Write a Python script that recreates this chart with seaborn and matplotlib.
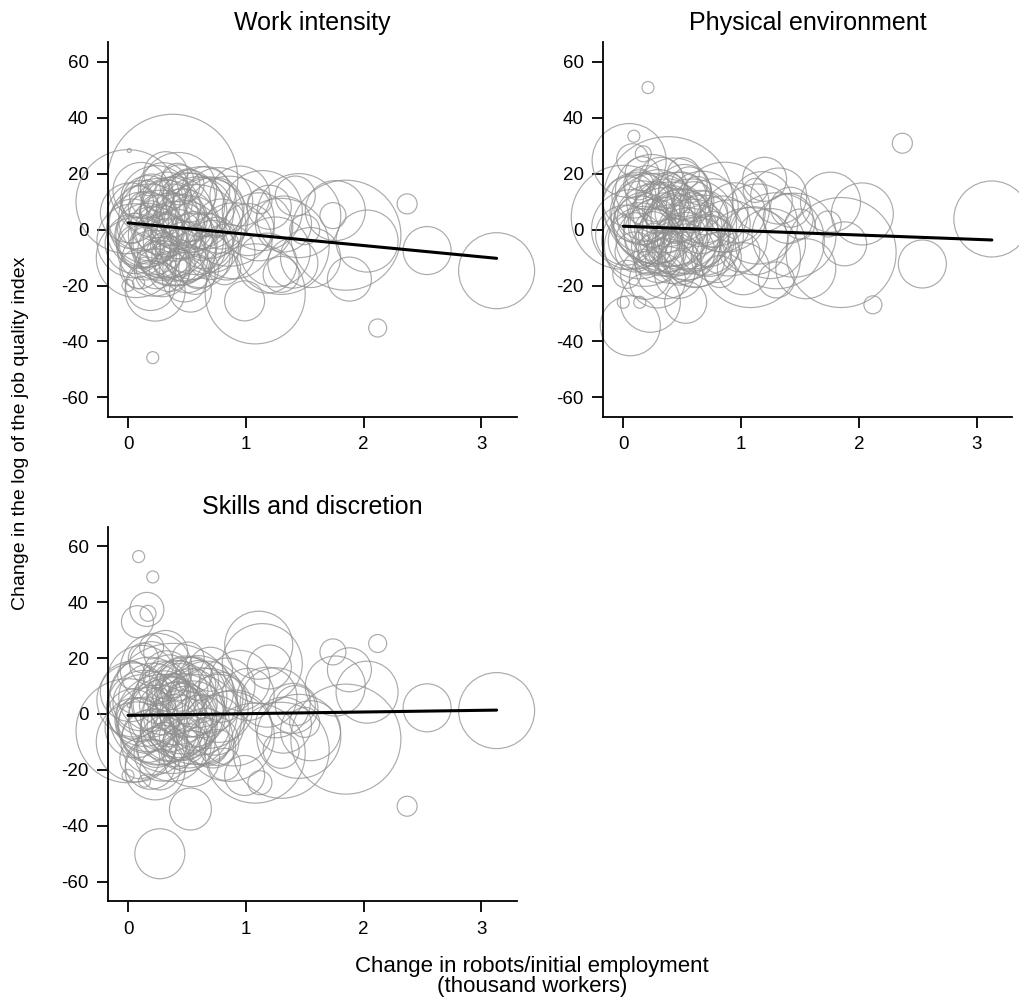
import numpy as np
import pandas as pd
import matplotlib
matplotlib.use("Agg")
import matplotlib.pyplot as plt
import seaborn as sns

# Change in robots per initial employment (thousand workers), shared by all panels.
robots = [3.13, 2.54, 2.37, 2.12, 2.03, 1.88, 1.74, 1.85, 1.76,
          1.08, 1.14, 0.99, 1.25, 1.32, 1.45, 1.40, 1.20, 0.95, 1.55,
          0.90, 1.02, 1.30, 0.86, 1.12, 1.11, 1.30, 1.42, 0.82, 1.50, 1.18,
          0.21, 0.01, 0.09, 0.17, 0.16, 0.08, 0.06, 0.27, 0.53, 0.38,
          0.00, 0.05, 0.00, 0.14, 0.23,
          0.12, 0.15, 0.18, 0.20, 0.22, 0.25, 0.28, 0.30, 0.31, 0.33,
          0.35, 0.36, 0.40, 0.42, 0.44, 0.46, 0.48, 0.50, 0.52, 0.55,
          0.58, 0.60, 0.62, 0.65, 0.68, 0.70, 0.73, 0.76, 0.79, 0.10,
          0.13, 0.19, 0.24, 0.26, 0.29, 0.32, 0.34, 0.37, 0.39, 0.41,
          0.43, 0.45, 0.47, 0.49, 0.51, 0.54, 0.57, 0.59, 0.63, 0.66,
          0.04, 0.07, 0.11, 0.16, 0.20, 0.27, 0.03,
          0.02, 0.09, 0.14, 0.17, 0.21, 0.24, 0.26, 0.30, 0.33, 0.36,
          0.38, 0.41, 0.44, 0.47, 0.50, 0.53, 0.56, 0.61, 0.67, 0.72,
          0.77, 0.84]

# Bubble radius weight (employment), shared by all panels.
weight = [38, 24, 10, 9, 31, 22, 13, 55, 30,
          50, 40, 20, 35, 28, 42, 25, 22, 30, 30,
          38, 26, 48, 45, 12, 34, 18, 20, 16, 15, 30,
          6, 2, 6, 8, 17, 16, 30, 25, 21, 65,
          52, 37, 6, 6, 30,
          35, 28, 40, 22, 33, 18, 45, 25, 14, 38,
          20, 30, 42, 16, 28, 35, 22, 40, 26, 33,
          45, 20, 35, 28, 40, 22, 30, 18, 25, 20,
          15, 25, 36, 12, 28, 22, 16, 34, 12, 26,
          38, 14, 24, 30, 16, 28, 20, 36, 14, 24,
          25, 40, 28, 32, 12, 20, 14,
          30, 22, 38, 26, 34, 20, 40, 32, 24, 42,
          18, 36, 20, 40, 24, 34, 18, 30, 36, 26,
          34, 28]

work_intensity = [-14.7, -7.5, 9.2, -35.2, -4.1, -17.7, 5.0, -2.0, 6.8,
                  -23.0, 6.8, -25.5, -8.0, 2.0, 5.0, -12.0, 8.0, 12.0, -10.0,
                  -4.0, 0.0, -6.0, 3.0, 10.0, 1.0, -16.0, 12.0, -14.0, 0.0, -12.0,
                  -45.8, 28.3, -19.0, 15.0, -5.0, 10.0, -5.0, 0.0, -22.0, 18.0,
                  10.0, -4.0, -20.0, -12.0, -22.0,
                  5.0, -8.0, 2.0, 12.0, -12.0, 6.0, -2.0, 15.0, -6.0, 4.0,
                  -15.0, 8.0, -5.0, 18.0, -10.0, 2.0, -18.0, 6.0, 12.0, -6.0,
                  0.0, -14.0, 10.0, -4.0, 4.0, -10.0, 8.0, -2.0, 2.0, -14.0,
                  8.0, -20.0, 10.0, -8.0, -14.0, 20.0, 0.0, -8.0, 12.0, -2.0,
                  14.0, -12.0, 4.0, -8.0, 16.0, 2.0, -16.0, 6.0, -6.0, 14.0,
                  2.0, -10.0, 14.0, -2.0, 6.0, -10.0, 0.0,
                  6.0, -6.0, 0.0, 10.0, -4.0, -14.0, 4.0, -6.0, 12.0, -2.0,
                  -12.0, 6.0, 16.0, -4.0, -14.0, 8.0, 0.0, -10.0, 6.0, -6.0,
                  10.0, -8.0]

physical_environment = [3.8, -12.3, 30.9, -26.9, 5.6, -5.1, 2.0, -8.2, 9.8,
                        -10.0, 2.0, -8.0, -5.0, 12.0, -2.0, 4.0, 18.0, 6.0, -14.0,
                        -3.0, -14.0, -4.0, 8.0, 14.0, -4.0, -18.0, 8.0, -15.0, 2.0, 10.0,
                        50.8, 5.0, 33.4, 27.1, 20.0, 25.0, -34.4, 2.0, -26.0, 10.0,
                        4.4, 24.7, -26.0, -26.0, -26.0,
                        8.0, 2.0, -6.0, 15.0, -4.0, 0.0, 4.0, -10.0, 12.0, -2.0,
                        6.0, -14.0, 2.0, 10.0, -6.0, 8.0, -12.0, 0.0, 14.0, -4.0,
                        2.0, 10.0, -8.0, 4.0, -2.0, 6.0, -6.0, 0.0, -10.0, -8.0,
                        16.0, -16.0, 14.0, -2.0, -18.0, 18.0, -6.0, 6.0, -4.0, -10.0,
                        12.0, 0.0, -16.0, 4.0, 20.0, -8.0, 6.0, -2.0, 14.0, 0.0,
                        10.0, 0.0, -4.0, 6.0, -12.0, 10.0, -16.0,
                        -2.0, 12.0, -4.0, 4.0, 8.0, -6.0, 2.0, 10.0, -8.0, 0.0,
                        14.0, -4.0, 6.0, -2.0, 12.0, -6.0, 16.0, -10.0, 8.0, -4.0,
                        6.0, 2.0]

skills_discretion = [1.2, 2.2, -33.0, 25.2, 7.8, 15.8, 22.2, -9.0, 10.0,
                     -14.0, 18.0, -22.0, 4.0, -4.0, -8.0, 2.0, 16.8, 12.0, -6.0,
                     -5.0, 7.0, -13.0, -8.0, -24.6, 24.6, -13.0, 3.0, -18.0, -3.0, 6.0,
                     49.0, 3.0, 56.3, 36.0, 37.4, 33.0, -5.0, -50.0, -34.0, 2.0,
                     -6.0, 5.0, -22.0, -24.0, -20.0,
                     12.0, -4.0, 6.0, 18.0, -10.0, 3.0, -2.0, 10.0, -8.0, 0.0,
                     14.0, -6.0, 4.0, -14.0, 8.0, -4.0, 2.0, 6.0, -10.0, 0.0,
                     -2.0, 12.0, 4.0, -8.0, 2.0, 16.0, -4.0, -12.0, 6.0, -16.0,
                     20.0, -18.0, 16.0, 8.0, -14.0, 22.0, -6.0, -12.0, 10.0, 2.0,
                     -2.0, 6.0, -8.0, 10.0, 20.0, -16.0, -6.0, 8.0, 2.0, -10.0,
                     0.0, -10.0, 4.0, -2.0, 24.0, -20.0, 14.0,
                     8.0, -2.0, 2.0, -8.0, 6.0, -12.0, -4.0, 4.0, 14.0, -2.0,
                     8.0, -6.0, 12.0, 0.0, -12.0, 4.0, 14.0, -4.0, 6.0, -10.0,
                     2.0, 10.0]

titles = ["Work intensity", "Physical environment", "Skills and discretion"]
# Weighted linear fit (intercept, slope) per panel.
fit_intercept = [2.4, 1.2, -0.5]
fit_slope = [-4.05, -1.57, 0.6]

data = pd.DataFrame({"robots": robots, "weight": np.array(weight) ** 2})
series = [work_intensity, physical_environment, skills_discretion]

sns.set_style("white")
plt.rcParams["font.family"] = ["Liberation Sans", "DejaVu Sans"]
plt.rcParams["axes.unicode_minus"] = False
plt.rcParams["text.color"] = "black"

fig = plt.figure(figsize=(10.19, 10.07), dpi=100)
rects = [[0.106, 0.586, 0.401, 0.372],
         [0.592, 0.586, 0.401, 0.372],
         [0.106, 0.105, 0.401, 0.372]]

wmax = data["weight"].max()
for rect, title, y, b0, b1 in zip(rects, titles, series, fit_intercept, fit_slope):
    ax = fig.add_axes(rect)
    df = data.assign(y=y)
    sns.scatterplot(data=df, x="robots", y="y", size="weight",
                    sizes=(0, 2.0736 * wmax), size_norm=(0, wmax),
                    facecolor="none", edgecolor="#8f8f8f", linewidth=0.85,
                    alpha=0.75, legend=False, clip_on=False, ax=ax)
    xline = np.array([0, max(robots)])
    ax.plot(xline, b0 + b1 * xline, color="black", linewidth=2.2, clip_on=False)

    ax.set_xlim(-0.17, 3.3)
    ax.set_ylim(-67, 67)
    ax.set_xticks([0, 1, 2, 3])
    ax.set_yticks([-60, -40, -20, 0, 20, 40, 60])
    ax.set_xlabel("")
    ax.set_ylabel("")
    ax.set_title(title, fontsize=18, pad=9, color="black")
    sns.despine(ax=ax)
    for side in ["left", "bottom"]:
        ax.spines[side].set_color("black")
        ax.spines[side].set_linewidth(1.3)
    ax.tick_params(direction="out", length=8, width=1.3, colors="black",
                   labelsize=13.5, pad=6, left=True, bottom=True)

fig.text(0.02, 0.57, "Change in the log of the job quality index",
         rotation=90, va="center", ha="center", fontsize=14, color="black")
fig.text(0.522, 0.03, "Change in robots/initial employment\n(thousand workers)",
         ha="center", va="center", fontsize=16, linespacing=0.95, color="black")

fig.savefig("out.png", dpi=100)
